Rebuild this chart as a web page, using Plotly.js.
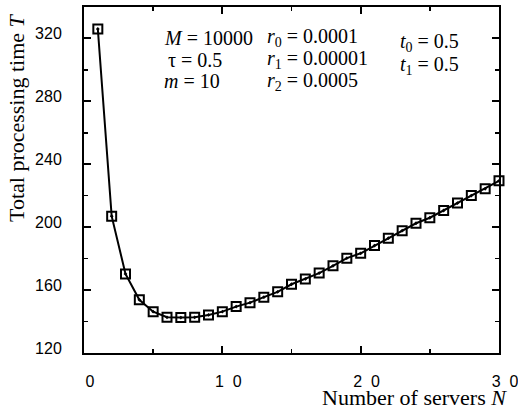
<!DOCTYPE html>
<html>
<head>
<meta charset="utf-8">
<script src="https://cdn.plot.ly/plotly-3.0.1.min.js"></script>
<style>html,body{margin:0;padding:0;background:#fff;}#chart{width:518px;height:409px;}</style>
</head>
<body>
<div id="chart"></div>
<script>
// Data
const servers = [1,2,3,4,5,6,7,8,9,10,11,12,13,14,15,16,17,18,19,20,21,22,23,24,25,26,27,28,29,30];
const processingTime = [326,207,170.3,153.8,146.3,142.7,142.5,142.7,144.2,146.3,149.5,152,155.5,158.9,163.7,167.1,170.8,175.4,180.3,183.4,188.3,193,197.8,202.5,206,210.6,215.3,220.1,224.4,229.5];
const xTickVals = [0,10,20,30];
const xTickText = ["0","1\u00a0\u00a00","2\u00a0\u00a00","3\u00a0\u00a00"];
const yTickVals = [120,160,200,240,280,320];
const yTickText = ["120","160","200","240","280","320"];

const serif = "Liberation Serif";
const sans = "Liberation Sans";

const trace = {
  x: servers, y: processingTime, type: 'scatter', mode: 'lines+markers',
  line: {color: '#000', width: 2},
  marker: {symbol: 'square-open-dot', size: 9, color: '#000', line: {color: '#000', width: 2}},
  cliponaxis: false, showlegend: false, hoverinfo: 'skip'
};

function ann(text, x, y, extra) {
  return Object.assign({text: text, xref: 'paper', yref: 'paper', x: x, y: y,
    xanchor: 'left', yanchor: 'middle', showarrow: false,
    font: {family: serif, size: 20, color: '#000'}}, extra || {});
}
function px(x){ return (x-84)/415; }
function py(y){ return (353-y)/346; }

const layout = {
  width: 518, height: 409,
  margin: {l: 84, r: 19, t: 7, b: 56},
  paper_bgcolor: '#fff', plot_bgcolor: '#fff',
  xaxis: {
    range: [0, 30], tickvals: xTickVals, ticktext: xTickText,
    ticks: 'inside', ticklen: 7, tickwidth: 2, tickcolor: '#000',
    showline: true, linecolor: '#000', linewidth: 2, mirror: 'ticks',
    showgrid: false, zeroline: false,
    tickfont: {family: sans, size: 16, color: '#000'},
    ticklabelstandoff: 13, ticklabelshift: 6, ticklabeloverflow: 'allow',
    minor: {dtick: 5, tick0: 0, ticks: 'inside', ticklen: 4, tickwidth: 1.5, tickcolor: '#000', showgrid: false}
  },
  yaxis: {
    range: [120, 340], tickvals: yTickVals, ticktext: yTickText,
    ticks: 'inside', ticklen: 7, tickwidth: 2, tickcolor: '#000',
    showline: true, linecolor: '#000', linewidth: 2, mirror: 'ticks',
    showgrid: false, zeroline: false,
    tickfont: {family: sans, size: 16, color: '#000'},
    ticklabelstandoff: 17, ticklabelshift: -5, ticklabeloverflow: 'allow',
    minor: {dtick: 20, tick0: 0, ticks: 'inside', ticklen: 4, tickwidth: 1.5, tickcolor: '#000', showgrid: false}
  },
  annotations: [
    ann('<i>M</i> = 10000', px(162), py(38)),
    ann('\u03c4 = 0.5', px(166), py(60)),
    ann('<i>m</i> = 10', px(162), py(81)),
    ann('<i>r</i><sub>0</sub> = 0.0001', px(265), py(37)),
    ann('<i>r</i><sub>1</sub> = 0.00001', px(265), py(60)),
    ann('<i>r</i><sub>2</sub> = 0.0005', px(265), py(82)),
    ann('<i>t</i><sub>0</sub> = 0.5', px(398), py(43)),
    ann('<i>t</i><sub>1</sub> = 0.5', px(398), py(65)),
    ann('Number of servers <i>N</i>', px(509), py(397), {xanchor: 'right', font: {family: serif, size: 22, color: '#000'}}),
    ann('Total processing time <i>T</i>', px(16), py(118), {xanchor: 'center', textangle: -90, font: {family: serif, size: 22, color: '#000'}})
  ]
};

Plotly.newPlot('chart', [trace], layout, {staticPlot: true, displayModeBar: false});
</script>
</body>
</html>
